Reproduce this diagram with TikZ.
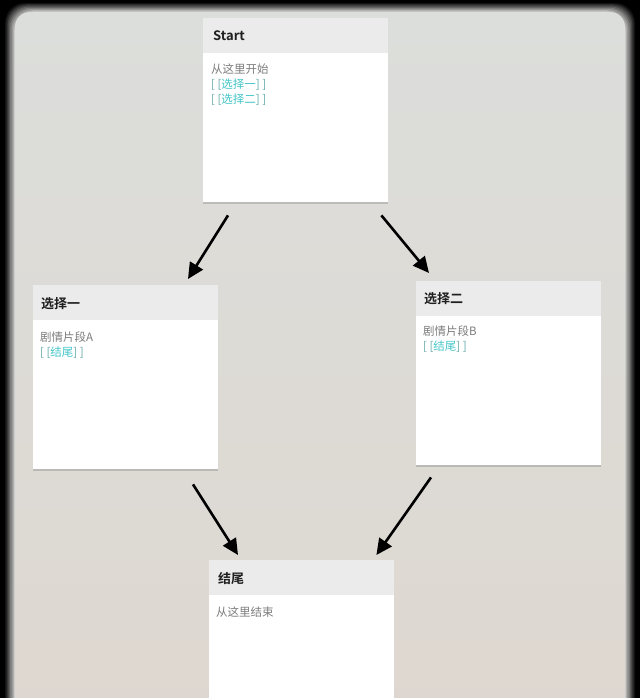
\documentclass[tikz,border=0pt]{standalone}
\usepackage{fontspec}
\setmainfont{Noto Sans CJK SC}[BoldFont={Noto Sans CJK SC Bold}]
\usetikzlibrary{shadows,arrows.meta}
\definecolor{wallgrey}{HTML}{DCDEDB}
\definecolor{wallwarm}{HTML}{DED7D0}
\definecolor{cardhead}{HTML}{EBEBEB}
\definecolor{bodygrey}{HTML}{7C7C7C}
\definecolor{linkcyan}{HTML}{45C6C8}
\definecolor{bracketteal}{HTML}{64A9AA}
\tikzset{
  card/.style={fill=white, minimum width=185pt, minimum height=184pt, anchor=north west, inner sep=0pt,
    drop shadow={shadow xshift=0pt, shadow yshift=-1.5pt, opacity=0.28, fill=black!60}},
  cardtitle/.style={anchor=west, inner sep=0pt, text=black!88, font=\fontsize{13}{15}\selectfont\bfseries},
  cardtext/.style={anchor=north west, inner sep=0pt, align=left, text=bodygrey, font=\fontsize{11.5}{15}\selectfont},
  flow/.style={line width=2.6pt, -{Triangle[length=16pt,width=15pt]}}
}
\newcommand{\passagelink}[1]{{\color{bracketteal}[\hspace{2.5pt}[}{\color{linkcyan}#1}{\color{bracketteal}]\hspace{2.5pt}]}}
\begin{document}
\begin{tikzpicture}[x=1pt,y=-1pt]
\clip (0,0) rectangle (640,698);
% dark frame round the screen
\fill[black] (0,0) rectangle (640,698);
\foreach \i [evaluate=\i as \pct using int(8+12*\i)] in {0,...,7}
  \fill[wallgrey!\pct!black, rounded corners=20pt] (5+1.3*\i,3+1.2*\i) rectangle (635-1.3*\i,740);
\shade[top color=wallgrey, bottom color=wallwarm, rounded corners=15pt] (15,12) rectangle (625,740);
% cards
\node[card] (start) at (203,18) {};
\node[card] (choiceA) at (33,285) {};
\node[card] (choiceB) at (416,281) {};
\node[card] (ending) at (209,560) {};
\foreach \c in {start,choiceA,choiceB,ending}
  \fill[cardhead] (\c.north west) rectangle ([yshift=-35pt]\c.north east);
% texts
\node[cardtitle] (starttitle) at ([shift={(10,18)}]start.north west) {Start};
\node[cardtext] (starttext) at ([shift={(8,46)}]start.north west) {从这里开始\\\passagelink{选择一}\\\passagelink{选择二}};
\node[cardtitle] (choiceAtitle) at ([shift={(8,19)}]choiceA.north west) {选择一};
\node[cardtext] (choiceAtext) at ([shift={(7,47)}]choiceA.north west) {剧情片段A\\\passagelink{结尾}};
\node[cardtitle] (choiceBtitle) at ([shift={(8,18)}]choiceB.north west) {选择二};
\node[cardtext] (choiceBtext) at ([shift={(7,45)}]choiceB.north west) {剧情片段B\\\passagelink{结尾}};
\node[cardtitle] (endingtitle) at ([shift={(9,19)}]ending.north west) {结尾};
\node[cardtext] (endingtext) at ([shift={(7,47)}]ending.north west) {从这里结束};
% links between passages
\draw[flow] ([shift={(25,13)}]start.south west) -- ([shift={(155,-6)}]choiceA.north west);
\draw[flow] ([shift={(-7,13)}]start.south east) -- ([shift={(13,-8)}]choiceB.north west);
\draw[flow] ([shift={(160,15)}]choiceA.south west) -- ([shift={(29,-5)}]ending.north west);
\draw[flow] ([shift={(15,12)}]choiceB.south west) -- ([shift={(-18,-5)}]ending.north east);
\end{tikzpicture}
\end{document}
